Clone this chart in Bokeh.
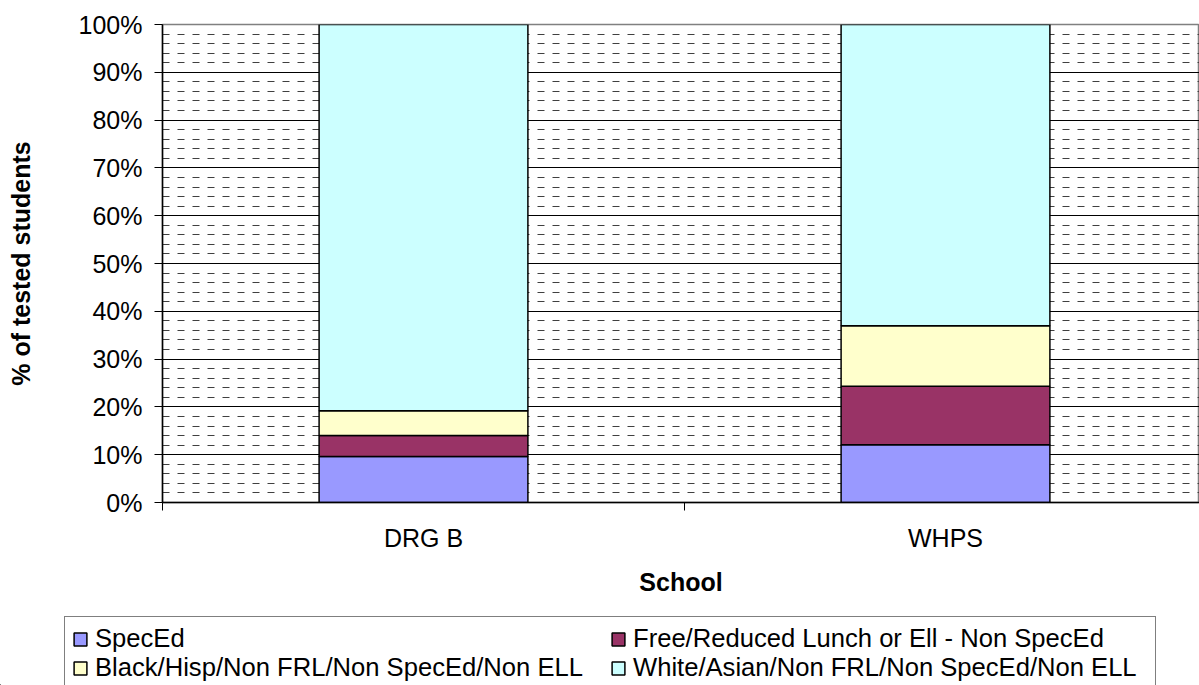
from bokeh.plotting import figure
from bokeh.layouts import column
from bokeh.models import (Range1d, FixedTicker, NumeralTickFormatter, Legend,
                          LegendItem, ColumnDataSource)
from bokeh.embed import file_html
from bokeh.resources import INLINE

# ---- data (percent of tested students) ----
schools = ["DRG B", "WHPS"]
series_names = ["SpecEd",
                "Free/Reduced Lunch or Ell - Non SpecEd",
                "Black/Hisp/Non FRL/Non SpecEd/Non ELL",
                "White/Asian/Non FRL/Non SpecEd/Non ELL"]
speced = [9.6, 12.1]
frl = [4.4, 12.2]
black_hisp = [5.2, 12.7]
white_asian = [80.8, 63.0]
colors = ["#9999FF", "#993366", "#FFFFCC", "#CCFFFF"]
y_ticks = [0, 10, 20, 30, 40, 50, 60, 70, 80, 90, 100]

FONT = "Liberation Sans"

keys = ["s0", "s1", "s2", "s3"]
x_pos = [i + 0.5 for i in range(len(schools))]
src = ColumnDataSource(dict(
    x=x_pos,
    s0=[v / 100 for v in speced],
    s1=[v / 100 for v in frl],
    s2=[v / 100 for v in black_hisp],
    s3=[v / 100 for v in white_asian],
))

p = figure(width=1199, height=610, output_backend="svg", toolbar_location=None,
           x_range=Range1d(0, 1037 / 522), y_range=Range1d(0, 1),
           min_border_left=162, min_border_right=0, min_border_top=24,
           min_border_bottom=108, frame_align=False)
p.outline_line_color = "#808080"
p.outline_line_width = 1.5

renderers = p.vbar_stack(keys, x="x", width=0.4, source=src, fill_color=colors,
                         line_color="black", line_width=1.5)

# ---- axes ----
xa = p.xaxis[0]
xa.ticker = FixedTicker(ticks=x_pos, minor_ticks=[0, 1, 2])
xa.major_label_overrides = {x: s for x, s in zip(x_pos, schools)}
xa.major_tick_out = 0
xa.major_tick_in = 0
xa.minor_tick_out = 8
xa.minor_tick_in = 0
xa.minor_tick_line_color = "black"
xa.axis_line_color = "black"
xa.axis_line_width = 1.5
xa.major_label_text_font = FONT
xa.major_label_text_font_size = "25px"
xa.major_label_text_color = "black"
xa.major_label_standoff = 13
xa.axis_label = "School"
xa.axis_label_text_font = FONT
xa.axis_label_text_font_size = "25px"
xa.axis_label_text_font_style = "bold"
xa.axis_label_text_color = "black"
xa.axis_label_standoff = 13

ya = p.yaxis[0]
ya.ticker = FixedTicker(ticks=[t / 100 for t in y_ticks],
                        minor_ticks=[m / 100 for m in range(2, 100, 2) if m % 10])
ya.formatter = NumeralTickFormatter(format="0%")
ya.major_tick_out = 8
ya.major_tick_in = 0
ya.minor_tick_out = 0
ya.minor_tick_in = 0
ya.major_tick_line_color = "black"
ya.axis_line_color = "black"
ya.axis_line_width = 1.5
ya.major_label_text_font = FONT
ya.major_label_text_font_size = "25px"
ya.major_label_text_color = "black"
ya.major_label_standoff = 12
ya.axis_label = "% of tested students"
ya.axis_label_text_font = FONT
ya.axis_label_text_font_size = "25px"
ya.axis_label_text_font_style = "bold"
ya.axis_label_text_color = "black"
ya.axis_label_standoff = 41

# ---- grid ----
p.xgrid.grid_line_color = None
p.ygrid.grid_line_color = "black"
p.ygrid.grid_line_width = 1
p.ygrid.minor_grid_line_color = "#404040"
p.ygrid.minor_grid_line_dash = "7 8"
p.ygrid.minor_grid_line_width = 1

# ---- legend (in a strip below the chart; its bars lie outside its view) ----
lg = figure(width=1199, height=75, output_backend="svg", toolbar_location=None,
            x_range=Range1d(10, 11), y_range=Range1d(10, 11),
            x_axis_type=None, y_axis_type=None,
            min_border_left=0, min_border_right=0, min_border_top=0,
            min_border_bottom=0, frame_align=False)
lg.outline_line_color = None
lg.xgrid.grid_line_color = None
lg.ygrid.grid_line_color = None
proxies = lg.vbar_stack(keys, x="x", width=0.4, source=src, fill_color=colors,
                        line_color="black", line_width=1.5)
order = [0, 2, 1, 3]  # column-major fill: row 1 = SpecEd, FRL; row 2 = Black, White
items = [LegendItem(label=series_names[i], renderers=[proxies[i]]) for i in order]
legend = Legend(items=items, ncols=2, location=(64, -5), margin=0,
                label_text_font=FONT, label_text_font_size="25.6px",
                label_text_color="black", glyph_width=16, glyph_height=16,
                label_standoff=7, label_height=28, label_width=515,
                spacing=0, padding=7,
                border_line_color="black", border_line_width=1.2,
                background_fill_color="white", background_fill_alpha=1)
lg.add_layout(legend, "center")

layout = column(p, lg, spacing=0)
open("out.html", "w").write(file_html(layout, INLINE))
